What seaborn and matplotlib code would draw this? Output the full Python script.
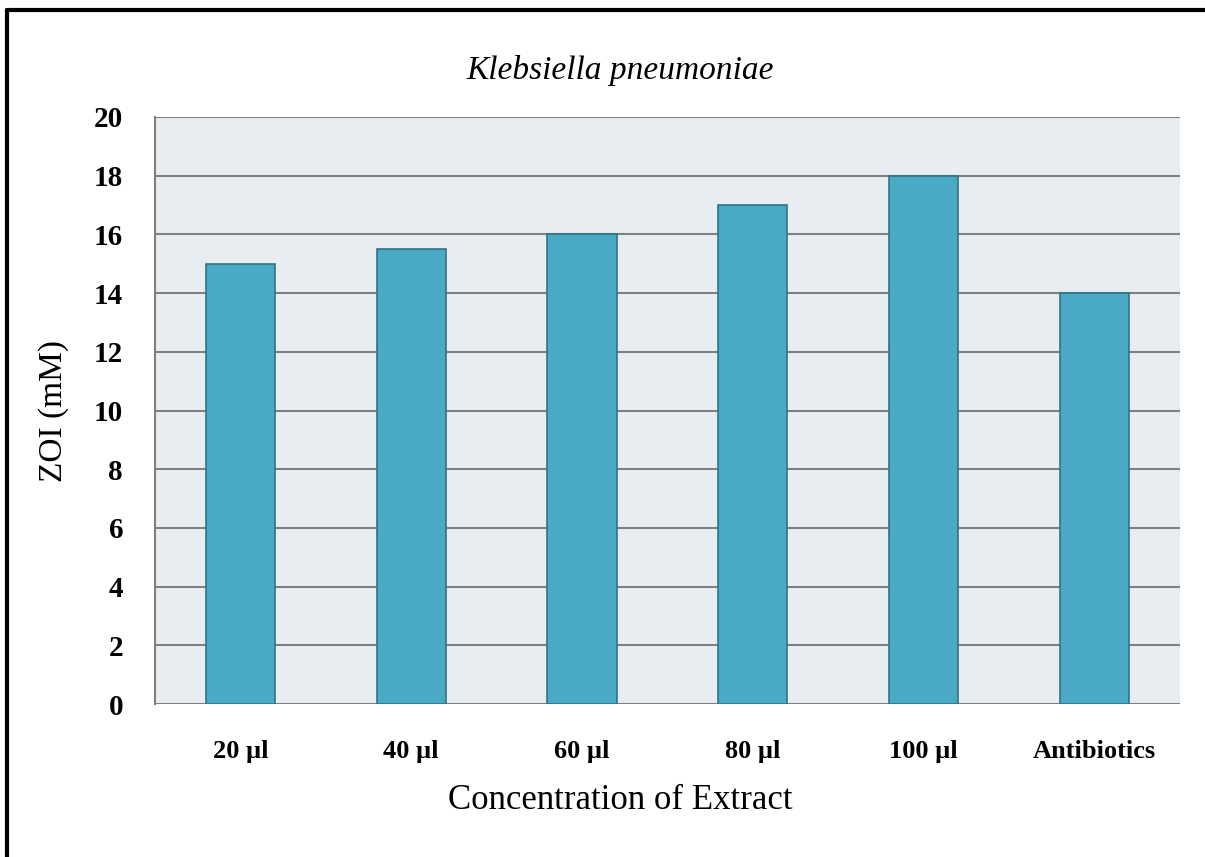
import matplotlib
matplotlib.use("Agg")
import matplotlib.pyplot as plt
import seaborn as sns
import pandas as pd
from matplotlib.lines import Line2D

# Data
categories = ["20 µl", "40 µl", "60 µl", "80 µl", "100 µl", "Antibiotics"]
zoi_values = [15, 15.5, 16, 17, 18, 14]

df = pd.DataFrame({"Concentration": categories, "ZOI": zoi_values})

sns.set_style("white")
plt.rcParams["font.family"] = ["Liberation Serif", "DejaVu Serif"]
plt.rcParams["text.color"] = "black"
plt.rcParams["axes.labelcolor"] = "black"
plt.rcParams["xtick.labelcolor"] = "black"
plt.rcParams["ytick.labelcolor"] = "black"

fig = plt.figure(figsize=(12.05, 8.57), dpi=100)
ax = fig.add_axes([0.1286, 0.1785, 0.8504, 0.685])

sns.barplot(
    data=df,
    x="Concentration",
    y="ZOI",
    color="#4aaac6",
    saturation=1,
    width=0.405,
    edgecolor="#2f7388",
    linewidth=1.2,
    ax=ax,
    zorder=3,
)

ax.set_facecolor("#e8edf1")
ax.set_ylim(0, 20)
ax.set_yticks(range(0, 21, 2))
ax.set_xlim(-0.5, len(categories) - 0.5)

# horizontal grid lines
ax.yaxis.grid(True, color="#808080", linewidth=1.5, zorder=1)
ax.xaxis.grid(False)
ax.set_axisbelow(True)

for side in ["top", "right", "bottom"]:
    ax.spines[side].set_visible(False)
ax.spines["left"].set_color("#808080")
ax.spines["left"].set_linewidth(1.5)

ax.tick_params(axis="y", which="major", length=9, width=1.5, color="#808080",
               pad=14, labelsize=21, labelcolor="black")
ax.tick_params(axis="x", which="major", length=0, pad=26, labelsize=19,
               labelcolor="black")
for lbl in ax.get_yticklabels() + ax.get_xticklabels():
    lbl.set_fontweight("bold")

ax.set_xlabel("")
ax.set_ylabel("ZOI (mM)", fontsize=24, labelpad=18, color="black")

# title and x label are centred on the figure, not the axes
fig.text(0.515, 0.918, "Klebsiella pneumoniae", fontsize=24, style="italic",
         ha="center", va="center", color="black")
fig.text(0.515, 0.066, "Concentration of Extract", fontsize=25,
         ha="center", va="center", color="black")

# outer frame (top and left edges visible in the reference)
fig.add_artist(Line2D([0.0055, 1.0], [0.9885, 0.9885], color="black", linewidth=3,
                      transform=fig.transFigure))
fig.add_artist(Line2D([0.0055, 0.0055], [0.0, 0.9885], color="black", linewidth=3,
                      transform=fig.transFigure))

fig.savefig("out.png", dpi=100)
plt.close(fig)
